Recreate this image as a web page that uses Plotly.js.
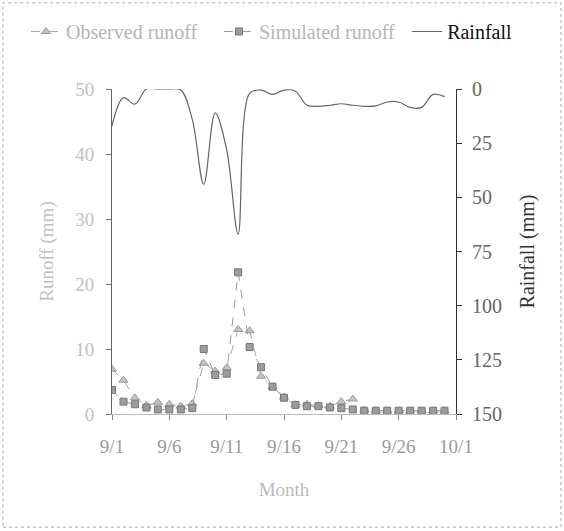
<!DOCTYPE html>
<html>
<head>
<meta charset="utf-8">
<script src="https://cdn.plot.ly/plotly-3.0.1.min.js"></script>
<style>html,body{margin:0;padding:0;background:#fff;}#chart{width:564px;height:531px;}</style>
</head>
<body>
<div id="chart"></div>
<script>
// Day of September (1 = 9/1)
var days = [1,2,3,4,5,6,7,8,9,10,11,12,13,14,15,16,17,18,19,20,21,22,23,24,25,26,27,28,29,30];
var observedRunoff = [6.9,5.2,2.5,1.3,1.8,1.5,1.2,1.6,7.8,6.6,7.1,13.0,12.8,5.8,4.2,2.6,1.4,1.5,1.3,1.2,1.9,2.3,0.6,0.5,0.5,0.5,0.5,0.5,0.5,0.5];
var simulatedRunoff = [3.7,1.9,1.5,1.0,0.7,0.7,0.7,0.9,10.0,6.0,6.2,21.8,10.3,7.2,4.2,2.5,1.4,1.2,1.2,1.0,0.9,0.7,0.5,0.5,0.5,0.5,0.5,0.5,0.5,0.5];
var rainfall = [17,4,7,0,0,0,0.5,14,44,11,28,67,2,0.5,2.5,0.5,1,7.5,8,7.5,6.8,7.5,8,7.8,6,6,8.5,8.5,2.5,3.5];
var xTickVals = [1,6,11,16,21,26,31];
var xTickText = ['9/1','9/6','9/11','9/16','9/21','9/26','10/1'];

var serif = 'Liberation Serif, Times New Roman, serif';

var traces = [
  {
    x: days, y: observedRunoff, name: '<span style="color:#b5b5b5">Observed runoff</span>',
    type: 'scatter', mode: 'lines+markers', yaxis: 'y', legend: 'legend',
    line: {color: '#a8a8a8', width: 1, dash: 'dash'},
    marker: {symbol: 'triangle-up', size: 8, color: '#c4c4c4', line: {color: '#999', width: 1}}
  },
  {
    x: days, y: simulatedRunoff, name: '<span style="color:#b5b5b5">Simulated runoff</span>',
    type: 'scatter', mode: 'lines+markers', yaxis: 'y', legend: 'legend2',
    line: {color: '#9a9a9a', width: 1, dash: 'dash'},
    marker: {symbol: 'square', size: 7, color: '#9c9c9c', line: {color: '#777', width: 1}}
  },
  {
    x: days, y: rainfall, name: 'Rainfall',
    type: 'scatter', mode: 'lines', yaxis: 'y2', legend: 'legend3',
    line: {color: '#666', width: 1.2, shape: 'spline', smoothing: 1}
  }
];

function leg(xpos) {
  return {
    orientation: 'h', x: xpos, xanchor: 'left', y: 1.237, yanchor: 'top',
    font: {family: serif, size: 20, color: '#111'}, bgcolor: 'rgba(0,0,0,0)'
  };
}

var layout = {
  width: 564, height: 531,
  margin: {l: 112, r: 108, t: 89, b: 117},
  paper_bgcolor: '#fff', plot_bgcolor: '#fff',
  font: {family: serif, size: 19, color: '#aaa'},
  showlegend: true,
  legend: leg(-0.25),
  legend2: leg(0.311),
  legend3: leg(0.858),
  xaxis: {
    range: [1, 31], tickvals: xTickVals, ticktext: xTickText,
    showgrid: false, zeroline: false,
    showline: true, linecolor: '#bbb', linewidth: 1,
    ticks: 'outside', ticklen: 5, tickcolor: '#888',
    ticklabelstandoff: 10,
    tickfont: {family: serif, size: 19, color: '#999'},
    title: {text: 'Month', font: {family: serif, size: 19, color: '#bbb'}, standoff: 26}
  },
  yaxis: {
    range: [0, 50], tickvals: [0,10,20,30,40,50],
    showgrid: false, zeroline: false,
    showline: true, linecolor: '#666', linewidth: 1,
    ticks: 'outside', ticklen: 5, tickcolor: '#777',
    ticklabelstandoff: 8,
    tickfont: {family: serif, size: 19, color: '#c0c0c0'},
    title: {text: 'Runoff (mm)', font: {family: serif, size: 19, color: '#c0c0c0'}, standoff: 16}
  },
  yaxis2: {
    overlaying: 'y', side: 'right',
    range: [150, 0], tickvals: [0,25,50,75,100,125,150],
    showgrid: false, zeroline: false,
    showline: true, linecolor: '#333', linewidth: 1,
    ticks: 'outside', ticklen: 5, tickcolor: '#333',
    ticklabelstandoff: 6,
    tickfont: {family: serif, size: 20, color: '#666'},
    title: {text: 'Rainfall (mm)', font: {family: serif, size: 20, color: '#333'}, standoff: 18}
  },
  shapes: [
    {type: 'rect', xref: 'paper', yref: 'paper', x0: -0.317, x1: 1.305, y0: -0.348, y1: 1.265,
     line: {color: '#aaa', width: 1, dash: 'dot'}, layer: 'below'}
  ]
};

Plotly.newPlot('chart', traces, layout, {displayModeBar: false, staticPlot: true});
</script>
</body>
</html>
